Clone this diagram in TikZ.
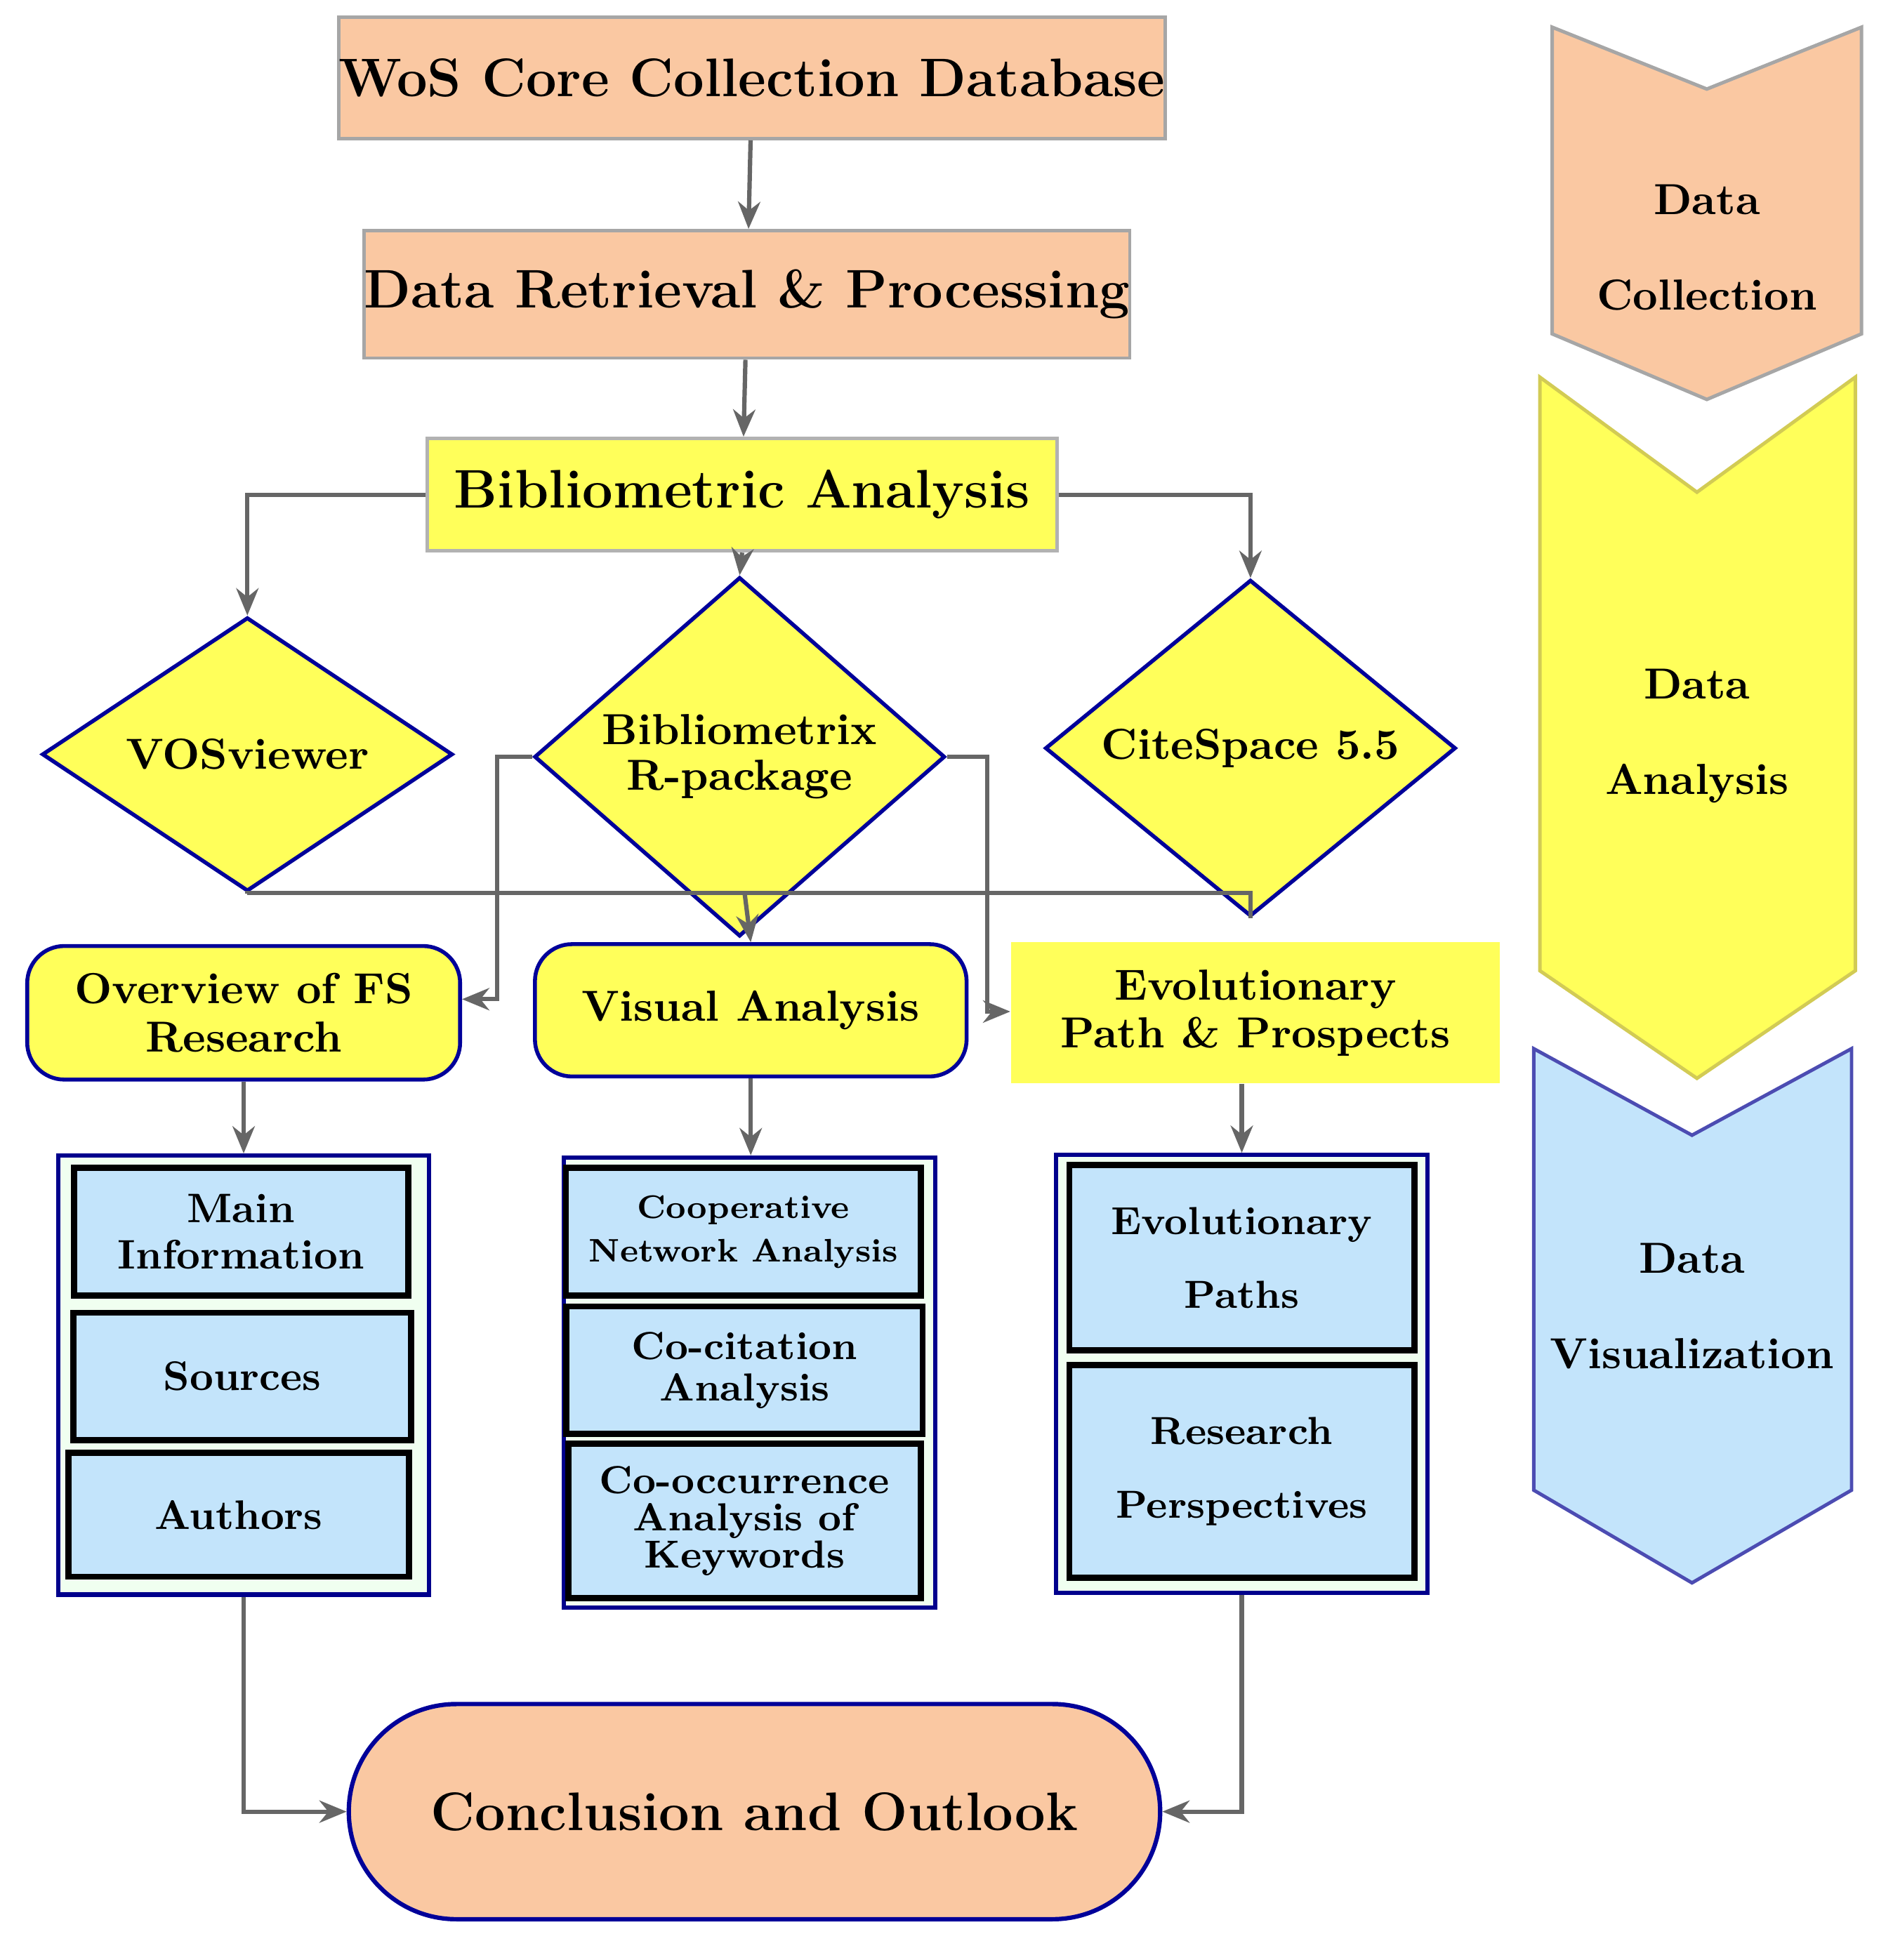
\documentclass[tikz,border=0pt]{standalone}
\usetikzlibrary{shapes.geometric,arrows.meta}
\begin{document}
\begin{tikzpicture}[x=0.1mm,y=-0.1mm,
  every node/.style={font=\bfseries, align=center, inner sep=0pt},
  orng/.style={draw=gray!70, line width=0.8pt, fill=orange!35!white!95!red},
  yel/.style={fill=yellow!70!white},
  ydia/.style={diamond, draw=blue!60!black, line width=0.9pt, fill=yellow!70!white, minimum width=33.2mm, minimum height=15mm},
  rbox/.style={rounded corners=3mm, draw=blue!60!black, line width=0.9pt, fill=yellow!70!white},
  cont/.style={draw=blue!55!black, line width=1pt, fill=green!6!white},
  ibox/.style={draw=black, line width=1.4pt, fill=cyan!20!white},
  arr/.style={draw=gray!80!black, line width=1pt, -{Stealth[length=2.2mm,width=1.8mm]}},
  ln/.style={draw=gray!80!black, line width=1pt}]
\useasboundingbox (0,0) rectangle (1530,1585);
\definecolor{org}{HTML}{FAC8A2}
\definecolor{yl}{HTML}{FFFF5A}
\definecolor{lb}{HTML}{C3E4FB}
\tikzset{orng/.append style={fill=org}, yel/.append style={fill=yl}, ydia/.append style={fill=yl}, rbox/.append style={fill=yl}, ibox/.append style={fill=lb}}
% top boxes
\node[orng, minimum width=66.7mm, minimum height=9.8mm, font=\bfseries\fontsize{12.5}{14}\selectfont] (wos) at (608,63) {WoS Core Collection Database};
\node[orng, minimum width=61.4mm, minimum height=10.3mm, font=\bfseries\fontsize{12.5}{14}\selectfont] (dr) at (604,238) {Data Retrieval \& Processing};
\node[yel, draw=gray!60, line width=0.8pt, minimum width=50.9mm, minimum height=9.1mm, font=\bfseries\fontsize{12.5}{14}\selectfont] (bib) at (600,400) {Bibliometric Analysis};
% diamonds
\node[ydia, font=\bfseries\fontsize{10}{11}\selectfont] (vos) at (200,610) {VOSviewer};
\node[ydia, font=\bfseries\fontsize{10}{10.5}\selectfont] (bmx) at (598,612) {Bibliometrix\\R-package};
\node[ydia, font=\bfseries\fontsize{10}{11}\selectfont] (cite) at (1011,605) {CiteSpace 5.5};
% second level
\node[rbox, minimum width=35mm, minimum height=10.8mm, font=\bfseries\fontsize{10}{11}\selectfont] (ov) at (197,819) {Overview of FS\\Research};
\node[rbox, minimum width=34.9mm, minimum height=10.7mm, font=\bfseries\fontsize{10}{11}\selectfont] (vis) at (607,817) {Visual Analysis};
\node[yel, minimum width=39.5mm, minimum height=11.4mm, font=\bfseries\fontsize{10}{11}\selectfont] (evo) at (1015,819) {Evolutionary\\Path \& Prospects};
% containers
\node[cont, minimum width=30mm, minimum height=35.5mm] (c1) at (197,1112) {};
\node[cont, minimum width=30mm, minimum height=36.4mm] (c2) at (606,1118) {};
\node[cont, minimum width=30mm, minimum height=35.4mm] (c3) at (1004,1111) {};
\node[ibox, minimum width=27mm, minimum height=10.3mm, font=\bfseries\fontsize{9.5}{10.5}\selectfont] (mi) at (195,996) {Main\\Information};
\node[ibox, minimum width=27.3mm, minimum height=10.3mm, font=\bfseries\fontsize{9.5}{10.5}\selectfont] (so) at (196,1113) {Sources};
\node[ibox, minimum width=27.5mm, minimum height=10mm, font=\bfseries\fontsize{9.5}{10.5}\selectfont] (au) at (193,1225) {Authors};
\node[ibox, minimum width=28.7mm, minimum height=10.3mm, font=\bfseries\fontsize{7.5}{10}\selectfont] (co) at (601,996) {Cooperative\\Network Analysis};
\node[ibox, minimum width=28.8mm, minimum height=10.3mm, font=\bfseries\fontsize{9}{9.5}\selectfont] (cc) at (602,1108) {Co-citation\\Analysis};
\node[ibox, minimum width=28.5mm, minimum height=12.5mm, font=\bfseries\fontsize{9}{8.5}\selectfont] (ck) at (602,1230) {Co-occurrence\\Analysis of\\Keywords};
\node[ibox, minimum width=27.9mm, minimum height=15mm, font=\bfseries\fontsize{9}{17}\selectfont] (ep) at (1004,1017) {Evolutionary\\Paths};
\node[ibox, minimum width=27.9mm, minimum height=17.2mm, font=\bfseries\fontsize{9}{17}\selectfont] (rp) at (1004,1190) {Research\\Perspectives};
% conclusion
\node[draw=blue!60!black, line width=1pt, fill=org, rounded corners=8.7mm, minimum width=65.6mm, minimum height=17.4mm, font=\bfseries\fontsize{12.5}{14}\selectfont] (con) at (610,1465) {Conclusion and Outlook};
% connectors
\draw[arr] (wos) -- (dr);
\draw[arr] (dr) -- (bib);
\draw[arr] (bib.west) -| (vos.north);
\draw[arr] (bib.east) -| (cite.north);
\draw[arr] (bib.south) -- (bmx.north);
\coordinate (j) at (602,722);
\draw[ln] (vos.south) |- (j) -| (cite.south);
\draw[arr] (j) -- (vis.north);
\coordinate (bl) at (402,808);
\coordinate (br) at (798,818);
\draw[arr] (bmx.west) -| (bl) -- (ov.east |- bl);
\draw[arr] (bmx.east) -| (br) -- (evo.west |- br);
\draw[arr] (ov.south) -- (ov.south |- c1.north);
\draw[arr] (vis.south) -- (vis.south |- c2.north);
\draw[arr] (evo.south -| c3.north) -- (c3.north);
\draw[arr] (c1.south) |- (con.west);
\draw[arr] (c3.south) |- (con.east);
% chevrons
\draw[draw=gray!70, line width=0.8pt, fill=org] (1255,22) -- (1380,72) -- (1505,22) -- (1505,270) -- (1380,323) -- (1255,270) -- cycle;
\node[font=\bfseries\fontsize{10}{22}\selectfont] (dc) at (1380,200) {Data\\Collection};
\draw[draw=yellow!60!gray, line width=0.8pt, fill=yl] (1245,305) -- (1372,398) -- (1500,305) -- (1500,785) -- (1372,872) -- (1245,785) -- cycle;
\node[font=\bfseries\fontsize{10}{22}\selectfont] (da) at (1372,595) {Data\\Analysis};
\draw[draw=gray!60!blue, line width=0.8pt, fill=lb] (1240,848) -- (1368,918) -- (1497,848) -- (1497,1205) -- (1368,1280) -- (1240,1205) -- cycle;
\node[font=\bfseries\fontsize{10}{22}\selectfont] (dv) at (1368,1056) {Data\\Visualization};
\end{tikzpicture}
\end{document}
